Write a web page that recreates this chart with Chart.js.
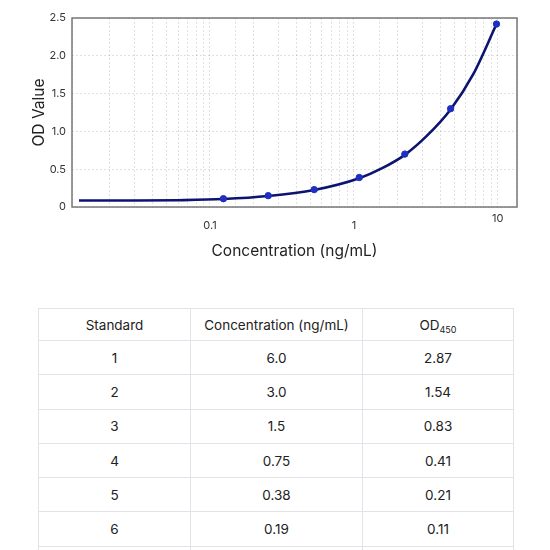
<!DOCTYPE html>
<html>
<head>
<meta charset="utf-8">
<script src="https://cdn.jsdelivr.net/npm/chart.js@4.4.1/dist/chart.umd.min.js"></script>
<style>
    html, body { margin: 0; padding: 0; background: #fff; }
    body { width: 550px; height: 550px; overflow: hidden; position: relative; font-family: Inter, "Noto Sans", sans-serif; }
    #chartBox { position: absolute; left: 0; top: 0; width: 550px; height: 275px; }
    #stdTable {
        position: absolute; left: 38px; top: 308px; width: 475px;
        border-collapse: collapse; table-layout: fixed; color: #222; font-size: 13.5px;
    }
    #stdTable td, #stdTable th {
        border: 1.5px solid #e2e2e8; text-align: center; font-weight: 400; padding: 0;
        height: 33.3px;
    }
    #stdTable th { height: 31px; }
    #stdTable sub { font-size: 9px; vertical-align: -3px; line-height: 0; }
</style>
</head>
<body>
<div id="chartBox"><canvas id="odChart"></canvas></div>
<table id="stdTable">
    <colgroup><col style="width:152px"><col style="width:172px"><col style="width:151px"></colgroup>
    <thead><tr><th>Standard</th><th>Concentration (ng/mL)</th><th>OD<sub>450</sub></th></tr></thead>
    <tbody id="stdBody"></tbody>
</table>
<script>
// Standard curve
const concentrations = [0.124, 0.254, 0.53, 1.09, 2.26, 4.7, 9.8];
const odValues = [0.11, 0.15, 0.23, 0.39, 0.70, 1.30, 2.42];

// fitted curve
const curveConc = [0.0123, 0.03, 0.06, 0.124, 0.254, 0.53, 1.09, 1.56, 2.26, 3.21, 4.7, 6.77, 9.8];
const curveOD = [0.085, 0.085, 0.09, 0.105, 0.145, 0.225, 0.38, 0.51, 0.69, 0.94, 1.29, 1.76, 2.42];

const xTickLabels = ['0.1', '1', '10'];
const yTickValues = [0, 0.5, 1.0, 1.5, 2.0, 2.5];

// Table below the chart
const tableStandards = ['1', '2', '3', '4', '5', '6', ''];
const tableConc = ['6.0', '3.0', '1.5', '0.75', '0.38', '0.19', ''];
const tableOD = ['2.87', '1.54', '0.83', '0.41', '0.21', '0.11', ''];

const body = document.getElementById('stdBody');
tableStandards.forEach((s, i) => {
    const tr = document.createElement('tr');
    [s, tableConc[i], tableOD[i]].forEach(v => {
        const td = document.createElement('td');
        td.textContent = v;
        tr.appendChild(td);
    });
    body.appendChild(tr);
});

function xLabelFor(value) {
    return xTickLabels.find(l => Math.abs(Math.log10(Number(l)) - Math.log10(value)) < 1e-6);
}

// frame round the plot area
const frame = {
    id: 'frame',
    afterDatasetsDraw(chart) {
        const a = chart.chartArea;
        const ctx = chart.ctx;
        ctx.save();
        ctx.strokeStyle = '#777';
        ctx.lineWidth = 1.5;
        ctx.strokeRect(a.left, a.top, a.right - a.left, a.bottom - a.top);
        ctx.restore();
    }
};

new Chart(document.getElementById('odChart'), {
    type: 'scatter',
    data: {
        datasets: [
            {
                label: 'Standards',
                data: concentrations.map((c, i) => ({ x: c, y: odValues[i] })),
                backgroundColor: '#1f2fbf',
                borderColor: '#1f2fbf',
                pointRadius: 3.2,
                order: 0
            },
            {
                label: 'Fit',
                type: 'line',
                data: curveConc.map((c, i) => ({ x: c, y: curveOD[i] })),
                borderColor: '#0d1470',
                borderWidth: 2.6,
                pointRadius: 0,
                fill: false,
                cubicInterpolationMode: 'monotone',
                order: 1
            }
        ]
    },
    options: {
        responsive: true,
        maintainAspectRatio: false,
        animation: false,
        layout: { padding: { top: 18, right: 33, bottom: 5, left: 0 } },
        plugins: {
            legend: { display: false },
            tooltip: { enabled: false }
        },
        scales: {
            x: {
                type: 'logarithmic',
                min: 0.011,
                max: 13.6,
                afterFit(scale) { scale.height = 63; },
                border: { display: false, dash: [2, 2] },
                grid: {
                    color: 'rgba(0,0,0,0.12)',
                    drawTicks: false
                },
                ticks: {
                    autoSkip: false,
                    maxRotation: 0,
                    padding: 5,
                    color: '#333',
                    font: ctx => ({
                        family: 'Inter',
                        size: 11,
                        lineHeight: ctx.tick && xLabelFor(ctx.tick.value) === '10' ? 1.2 : 2.45
                    }),
                    callback: value => xLabelFor(value) || ''
                },
                title: {
                    display: true,
                    text: 'Concentration (ng/mL)',
                    color: '#222',
                    font: { family: 'Inter', size: 15.5 },
                    padding: { top: 0, bottom: 9 }
                }
            },
            y: {
                min: 0,
                max: 2.5,
                afterFit(scale) { scale.width = 72; },
                afterBuildTicks(scale) { scale.ticks = yTickValues.map(v => ({ value: v })); },
                border: { display: false, dash: [2, 2] },
                grid: {
                    color: 'rgba(0,0,0,0.12)',
                    drawTicks: false
                },
                ticks: {
                    padding: 6,
                    color: '#333',
                    font: { family: 'Inter', size: 11 },
                    callback: v => (v === 0 ? '0' : v.toFixed(1))
                },
                title: {
                    display: true,
                    text: 'OD Value',
                    color: '#222',
                    font: { family: 'Inter', size: 15.5 },
                    padding: { top: 30, bottom: 0 }
                }
            }
        }
    },
    plugins: [frame]
});
</script>
</body>
</html>
